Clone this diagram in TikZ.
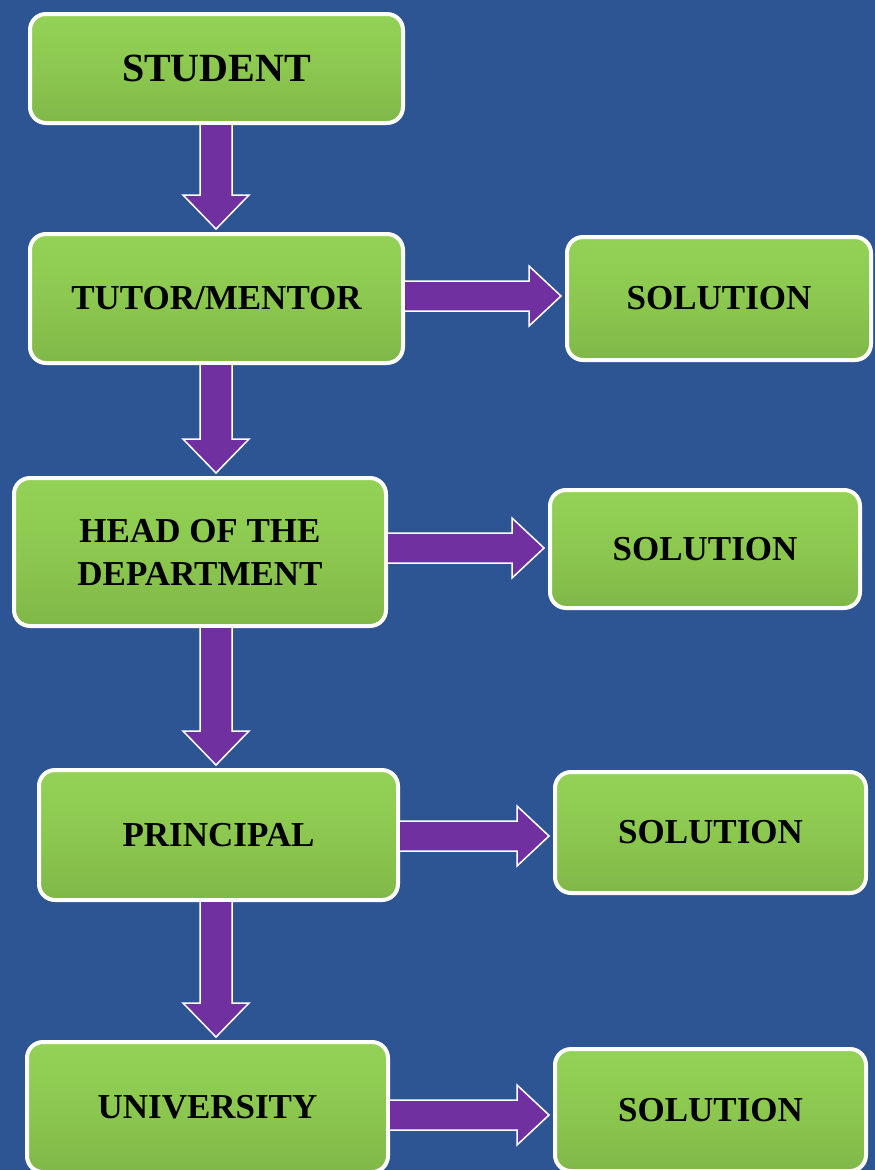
\documentclass[tikz,border=0pt]{standalone}
\usepackage{fontspec}
\setmainfont{Liberation Serif}
\usetikzlibrary{calc}
\definecolor{bg}{HTML}{2E5593}
\definecolor{boxgreen}{HTML}{8CC84F}
\definecolor{boxtop}{HTML}{94D257}
\definecolor{boxbot}{HTML}{80B848}
\definecolor{arrowpurple}{HTML}{7030A0}
\newcommand\downarr[2]{%
  \path[fatarrow] let \p1=(spine |- #1.south), \p2=(spine |- #2.north) in
    (\x1-16pt,\y1) -- (\x1-16pt,\y2+37pt) -- (\x1-33pt,\y2+37pt) -- (\x1,\y2+3pt)
    -- (\x1+33pt,\y2+37pt) -- (\x1+16pt,\y2+37pt) -- (\x1+16pt,\y1);}
\newcommand\rightarr[3]{%
  \path[fatarrow] let \p1=(#1.east), \p2=(#2.west) in
    (\x1,\y1+#3+15pt) -- (\x2-36pt,\y1+#3+15pt) -- (\x2-36pt,\y1+#3+30pt) -- (\x2-4pt,\y1+#3)
    -- (\x2-36pt,\y1+#3-30pt) -- (\x2-36pt,\y1+#3-15pt) -- (\x1,\y1+#3-15pt);}
\begin{document}
\begin{tikzpicture}[x=1pt,y=1pt,
  box/.style={draw=white, line width=4pt, rounded corners=16pt,
    top color=boxtop, bottom color=boxbot, middle color=boxgreen,
    font=\bfseries\fontsize{35}{43}\selectfont, align=center, inner sep=0pt, text=black},
  fatarrow/.style={fill=arrowpurple, draw=white, line width=1.5pt, line join=miter}]
\fill[bg] (0,0) rectangle (875,-1170);
\useasboundingbox (0,0) rectangle (875,-1170);
\clip (0,0) rectangle (875,-1170);
\coordinate (spine) at (216,0);
% boxes
\node[box, minimum width=373pt, minimum height=109pt, font=\bfseries\fontsize{40}{44}\selectfont] (student) at (216.5,-68.5) {STUDENT};
\node[box, minimum width=373pt, minimum height=129pt] (tutor) at (216.5,-298.5) {TUTOR/MENTOR};
\node[box, minimum width=304pt, minimum height=123pt] (sol1) at (719,-298.5) {SOLUTION};
\node[box, minimum width=372pt, minimum height=148pt] (hod) at (200,-552) {HEAD OF THE\\DEPARTMENT};
\node[box, minimum width=310pt, minimum height=118pt] (sol2) at (705,-549) {SOLUTION};
\node[box, minimum width=359pt, minimum height=130pt] (principal) at (218.5,-835) {PRINCIPAL};
\node[box, minimum width=311pt, minimum height=121pt] (sol3) at (710.5,-832.5) {SOLUTION};
\node[box, minimum width=361pt, minimum height=130pt] (univ) at (207.5,-1107) {UNIVERSITY};
\node[box, minimum width=311pt, minimum height=122pt] (sol4) at (710.5,-1110) {SOLUTION};
% down arrows
\downarr{student}{tutor}
\downarr{tutor}{hod}
\downarr{hod}{principal}
\downarr{principal}{univ}
% right arrows
\rightarr{tutor}{sol1}{2.5pt}
\rightarr{hod}{sol2}{4pt}
\rightarr{principal}{sol3}{-1pt}
\rightarr{univ}{sol4}{-8pt}
\end{tikzpicture}
\end{document}
